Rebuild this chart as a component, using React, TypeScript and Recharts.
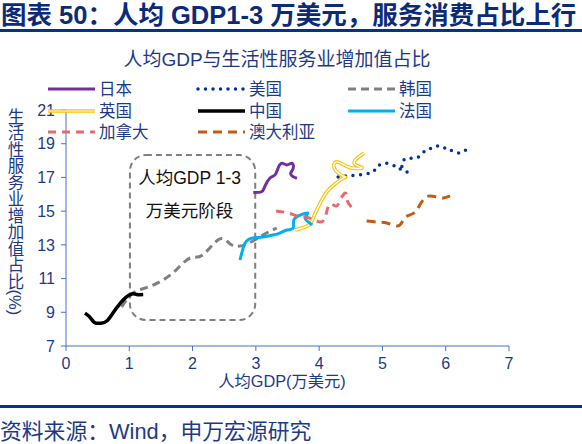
import React from "react";
import { LineChart, Line, XAxis, YAxis, ReferenceArea } from "recharts";

// 人均GDP(万美元), 生活性服务业增加值占比(%)
const japan = [
  [2.96, 16.1], [3.09, 16.15], [3.14, 16.45], [3.22, 16.95], [3.3, 17.14], [3.35, 17.54],
  [3.41, 17.84], [3.49, 17.74], [3.57, 17.84], [3.59, 17.54], [3.55, 17.24], [3.59, 17.04], [3.65, 16.95],
];
const usa = [
  [4.3, 17.02], [4.41, 17.08], [4.6, 17.14], [4.8, 17.26], [4.88, 17.44], [4.93, 17.68], [5.04, 17.85],
  [5.15, 17.74], [5.23, 17.62], [5.31, 17.44], [5.39, 17.32], [5.32, 17.56], [5.31, 17.91], [5.36, 18.09],
  [5.43, 18.15], [5.54, 18.15], [5.62, 18.39], [5.7, 18.63], [5.78, 18.74], [5.86, 18.86], [5.96, 18.8],
  [6.03, 18.63], [6.13, 18.57], [6.22, 18.45], [6.32, 18.63], [6.41, 18.74],
];
const korea = [
  [0.88, 9.31], [1.06, 10.14], [1.3, 10.5], [1.53, 10.91], [1.74, 11.51], [1.96, 12.22], [2.16, 12.4],
  [2.43, 13.35], [2.62, 12.99], [2.86, 13.05], [3.11, 13.58], [3.33, 14.0],
];
const uk = [
  [3.62, 13.88], [3.78, 14.06], [3.87, 14.3], [3.92, 14.71], [4.0, 15.36], [4.12, 16.13], [4.25, 16.61],
  [4.38, 16.96], [4.41, 17.02], [4.3, 17.26], [4.23, 17.68], [4.28, 17.92], [4.39, 17.74], [4.52, 17.56],
  [4.68, 17.56], [4.58, 17.74], [4.57, 18.03], [4.71, 18.45],
];
const china = [
  [0.3, 8.95], [0.38, 8.7], [0.45, 8.4], [0.55, 8.35], [0.65, 8.5], [0.75, 9.0], [0.85, 9.5],
  [0.95, 9.9], [1.05, 10.1], [1.12, 10.05], [1.22, 10.05],
];
const france = [
  [2.75, 12.1], [2.83, 13.11], [2.95, 13.41], [3.11, 13.47], [3.27, 13.58], [3.38, 13.7], [3.49, 13.88],
  [3.59, 14.0], [3.6, 14.47], [3.7, 14.77], [3.82, 14.89], [3.78, 14.59], [3.85, 14.3], [3.89, 14.18],
];
const canada = [
  [3.32, 15.01], [3.51, 14.89], [3.67, 14.71], [3.85, 14.59], [4.03, 14.35], [4.11, 14.83], [4.17, 15.42],
  [4.27, 15.3], [4.34, 15.72], [4.42, 16.07], [4.44, 15.66], [4.52, 15.19],
];
const australia = [
  [4.75, 14.41], [4.93, 14.35], [5.07, 14.3], [5.23, 14.12], [5.31, 14.35], [5.36, 14.65], [5.47, 14.83],
  [5.55, 15.07], [5.59, 15.36], [5.67, 15.78], [5.75, 15.9], [5.86, 15.84], [5.96, 15.78], [6.07, 15.9],
];

const xTicks = [0, 1, 2, 3, 4, 5, 6, 7];
const yTicks = [7, 9, 11, 13, 15, 17, 19, 21];
const stageBox = { x1: 1.01, x2: 2.99, y1: 8.54, y2: 18.33 };

const NAVY = "#1d3a8a";
const AXIS = "#4472c4";
const FONT = "Arial, 'Liberation Sans', 'Noto Sans CJK SC', sans-serif";

const toRows = (pts: number[][]) => pts.map(([x, y]) => ({ x, y }));

type Style = { color: string; width: number; dash?: string; cap?: "round" | "butt"; double?: boolean };
const series: { name: string; data: number[][]; style: Style }[] = [
  { name: "日本", data: japan, style: { color: "#7030a0", width: 3 } },
  { name: "美国", data: usa, style: { color: "#003399", width: 3.5, dash: "0 7.5", cap: "round" } },
  { name: "韩国", data: korea, style: { color: "#808080", width: 3, dash: "8 5" } },
  { name: "英国", data: uk, style: { color: "#ffc000", width: 3.6, double: true } },
  { name: "中国", data: china, style: { color: "#000000", width: 3.5 } },
  { name: "法国", data: france, style: { color: "#00b0f0", width: 3 } },
  { name: "加拿大", data: canada, style: { color: "#e8696a", width: 3, dash: "8 6" } },
  { name: "澳大利亚", data: australia, style: { color: "#c55a11", width: 3, dash: "9 6" } },
];

const legendCols = [48, 198, 348];
const legendRows = [89, 111, 132];

function StageBox(props: any) {
  const { x, y, width, height } = props;
  const cx = x + width / 2 - 3;
  return (
    <g>
      <rect x={x} y={y} width={width} height={height} rx={16} ry={16}
        fill="none" stroke="#7f7f7f" strokeWidth={2} strokeDasharray="6 4" />
      <text x={cx} y={y + 29} textAnchor="middle" fontSize={17.5} fill="#111" fontFamily={FONT}>人均GDP 1-3</text>
      <text x={cx} y={y + 62} textAnchor="middle" fontSize={17.5} fill="#111" fontFamily={FONT}>万美元阶段</text>
    </g>
  );
}

export default function App() {
  return (
    <div style={{ position: "absolute", left: 0, top: 0, width: 582, height: 444, background: "#fff", fontFamily: FONT }}>
      <LineChart width={582} height={444} margin={{ top: 110, right: 73, bottom: 68, left: 36 }}>
        <XAxis type="number" dataKey="x" domain={[0, 7]} ticks={xTicks} allowDataOverflow
          stroke={AXIS} tickSize={5} tickMargin={7} height={30}
          tick={{ fill: NAVY, fontSize: 16, fontFamily: FONT }} />
        <YAxis type="number" dataKey="y" domain={[7, 21]} ticks={yTicks} allowDataOverflow
          stroke={AXIS} tickSize={5} tickMargin={6} width={30}
          tick={{ fill: NAVY, fontSize: 16, fontFamily: FONT }} />
        <ReferenceArea {...stageBox} shape={<StageBox />} ifOverflow="visible" />
        {series.map((s) => [
          <Line key={s.name} data={toRows(s.data)} dataKey="y" type="natural" dot={false}
            stroke={s.style.color} strokeWidth={s.style.width} strokeDasharray={s.style.dash}
            strokeLinecap={s.style.cap ?? "butt"} strokeLinejoin="round" isAnimationActive={false} />,
          s.style.double ? (
            <Line key={s.name + "-in"} data={toRows(s.data)} dataKey="y" type="natural" dot={false}
              stroke="#ffffff" strokeWidth={1.4} isAnimationActive={false} />
          ) : null,
        ])}
      </LineChart>

      <svg width={582} height={444} style={{ position: "absolute", left: 0, top: 0, pointerEvents: "none" }}>
        <text x={1} y={24} fontSize={25.5} fontWeight="bold" fill="#0c2a7a" fontFamily={FONT}>
          图表 50：人均 GDP1-3 万美元，服务消费占比上行
        </text>
        <rect x={0} y={29} width={582} height={3} fill="#003399" />
        <text x={277} y={66} textAnchor="middle" fontSize={19} fill={NAVY} fontFamily={FONT}>
          人均GDP与生活性服务业增加值占比
        </text>
        {series.map((s, i) => {
          const lx = legendCols[i % 3];
          const ly = legendRows[Math.floor(i / 3)];
          return (
            <g key={s.name}>
              <line x1={lx} x2={lx + 47} y1={ly} y2={ly} stroke={s.style.color} strokeWidth={s.style.width}
                strokeDasharray={s.style.dash} strokeLinecap={s.style.cap ?? "butt"} />
              {s.style.double ? (
                <line x1={lx} x2={lx + 47} y1={ly} y2={ly} stroke="#ffe699" strokeWidth={1.4} />
              ) : null}
              <text x={lx + 51} y={ly + 6} fontSize={16.5} fill={NAVY} fontFamily={FONT}>{s.name}</text>
            </g>
          );
        })}
        <text x={282} y={387} textAnchor="middle" fontSize={16.3} fill={NAVY} fontFamily={FONT}>
          人均GDP(万美元)
        </text>
        <rect x={0} y={405} width={582} height={3} fill="#003399" />
        <text x={0} y={439} fontSize={21.8} fill={NAVY} fontFamily={FONT}>资料来源：Wind，申万宏源研究</text>
      </svg>

      <div style={{
        position: "absolute", left: 6, top: 108, writingMode: "vertical-rl", fontSize: 16.5,
        lineHeight: "18px", color: NAVY, fontFamily: FONT, whiteSpace: "nowrap",
      }}>
        生活性服务业增加值占比(%)
      </div>
    </div>
  );
}
